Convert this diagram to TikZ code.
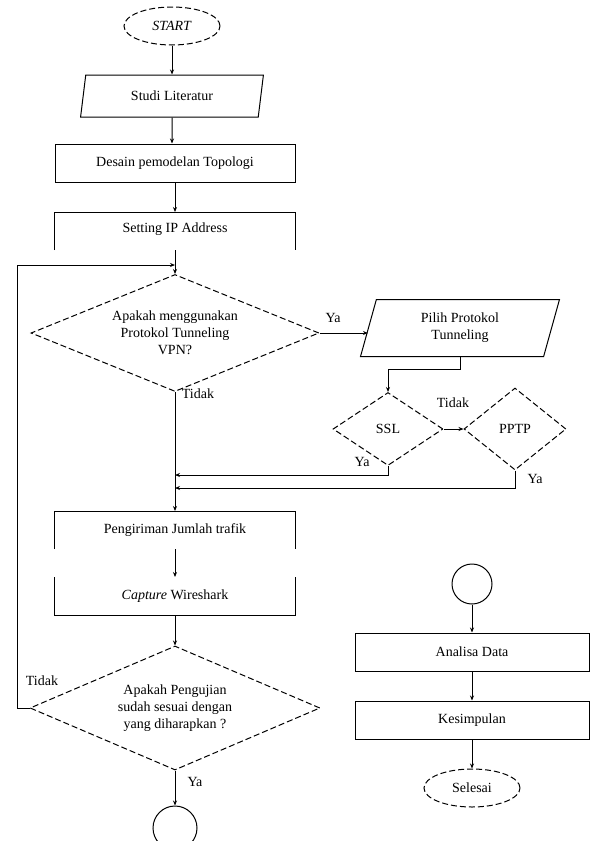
\documentclass[tikz,border=0pt]{standalone}
\usepackage{fontspec}
\setmainfont{Liberation Serif}
\usetikzlibrary{shapes.geometric,arrows.meta}

\begin{document}
\begin{tikzpicture}[x=1pt,y=-1pt,
        font=\fontsize{14}{17}\selectfont, line width=1pt,
        panah/.style={-{Stealth[length=5pt,width=4pt]}},
        putus/.style={dash pattern=on 6pt off 3pt},
        ujung/.style={ellipse, draw, putus, minimum width=96, minimum height=38, inner sep=0},
        kotak/.style={rectangle, draw, minimum width=240, minimum height=38, inner sep=0},
        polos/.style={rectangle, minimum width=240, minimum height=37, inner sep=0},
        jajar/.style={trapezium, draw, trapezium left angle=76, trapezium right angle=104,
            trapezium stretches=true, inner sep=0, align=center},
        keputusan/.style={diamond, draw, putus, inner sep=0, align=center},
        lingkaran/.style={circle, draw, minimum size=44, inner sep=0}]
    \useasboundingbox (0,0) rectangle (595,841);

    % Awal
    \node[ujung] (start) at (172,26) {\textit{START}};
    \node[jajar, minimum width=183, minimum height=42] (studi) at (172,96) {Studi Literatur};
    \node[kotak] (desain) at (175,163) {Desain pemodelan Topologi};
    \node[polos] (setip) at (175,231) {\raisebox{6pt}{Setting IP Address}};
    \draw (setip.south west) -- (setip.north west) -- (setip.north east) -- (setip.south east);
    \draw[panah] (start) -- (studi);
    \draw[panah] (studi) -- (studi |- desain.north);
    \draw[panah] (desain) -- (setip);

    % Pilihan VPN
    \node[keputusan, aspect=2.46, minimum width=288, minimum height=117] (vpn) at (175,333)
        {Apakah menggunakan\\Protokol Tunneling\\VPN?};
    \draw[panah] (setip.south) -- (vpn.north);
    \node[jajar, minimum width=200, minimum height=57] (pilih) at (460,328) {Pilih Protokol\\Tunneling};
    \draw[panah] (vpn.east) -- (vpn.east -| pilih.west);
    \node (ya1) at (333,318) {Ya};

    % Protokol
    \node[keputusan, aspect=1.5, minimum width=110, minimum height=73] (ssl) at (388,429) {SSL};
    \node[keputusan, aspect=1.25, minimum width=102, minimum height=82] (pptp) at (515,429) {PPTP};
    \draw[panah] (pilih.south) -- ++(0,12) -| (ssl.north);
    \draw[panah] (ssl.east) -- (pptp.west);
    \node (tidak2) at (453,403) {Tidak};
    \coordinate (gabung1) at (175,475);
    \coordinate (gabung2) at (175,488);
    \draw[panah] (ssl.south) |- (gabung1);
    \draw[panah] (pptp.south) |- (gabung2);
    \node (ya2) at (362,462) {Ya};
    \node (ya3) at (535,479) {Ya};

    % Pengujian
    \node[polos] (kirim) at (175,530) {Pengiriman Jumlah trafik};
    \node[polos] (capture) at (175,596) {\textit{Capture} Wireshark};
    \draw (kirim.south west) -- (kirim.north west) -- (kirim.north east) -- (kirim.south east);
    \draw (capture.north west) -- (capture.south west) -- (capture.south east) -- (capture.north east);
    \draw[panah] (vpn.south) -- (kirim.north);
    \node (tidak1) at (198,394) {Tidak};
    \draw[panah] (kirim.south) -- (capture.north);

    \node[keputusan, aspect=2.34, minimum width=290, minimum height=124] (uji) at (175,708)
        {Apakah Pengujian\\sudah sesuai dengan\\yang diharapkan ?};
    \draw[panah] (capture.south) -- (uji.north);
    \node[lingkaran] (sambung1) at (175,828) {};
    \draw[panah] (uji.south) -- (sambung1.north);
    \node (ya4) at (195,782) {Ya};
    \coordinate (kembali) at (175,265);
    \draw[panah] (uji.west) -- (17,708) |- (kembali);
    \node (tidak3) at (42,681) {Tidak};

    % Analisa
    \node[lingkaran, minimum size=40] (sambung2) at (472,584) {};
    \node[kotak, minimum width=234] (analisa) at (472,652) {Analisa Data};
    \node[kotak, minimum width=234] (simpul) at (472,720) {Kesimpulan};
    \node[ujung] (selesai) at (472,788) {Selesai};
    \draw[panah] (sambung2) -- (analisa);
    \draw[panah] (analisa) -- (simpul);
    \draw[panah] (simpul) -- (selesai);
\end{tikzpicture}
\end{document}
